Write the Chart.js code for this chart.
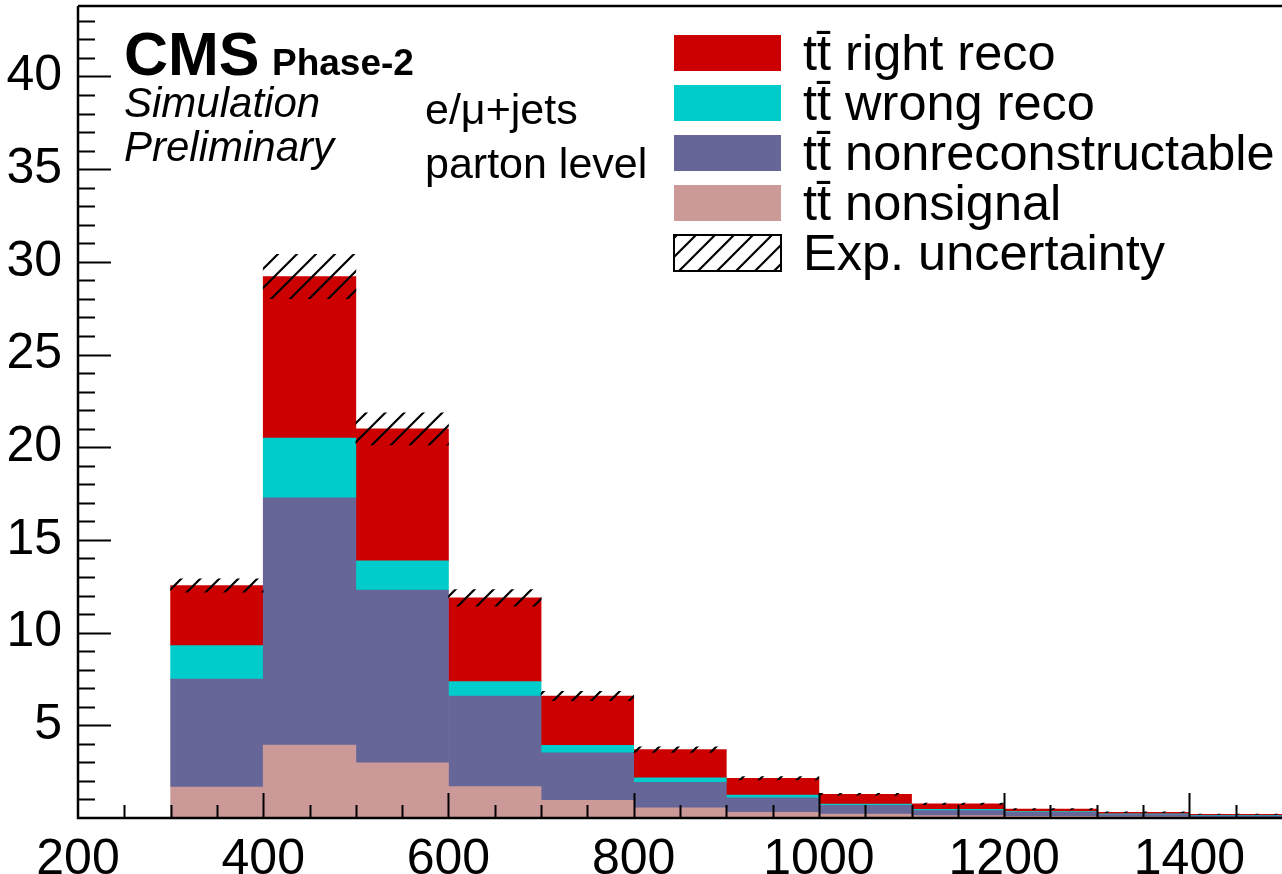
<!DOCTYPE html>
<html>
<head>
<meta charset="utf-8">
<script src="https://cdn.jsdelivr.net/npm/chart.js@4.4.0/dist/chart.umd.min.js"></script>
<style>
  html, body { margin:0; padding:0; background:#fff; }
  #wrap { width:1282px; height:874px; }
</style>
</head>
<body>
<div id="wrap"><canvas id="c" width="1282" height="874"></canvas></div>
<script>
// Histogram bins (lower edges, GeV), width 100
const BIN_LOW   = [300, 400, 500, 600, 700, 800, 900, 1000, 1100, 1200, 1300, 1400];
const BIN_WIDTH = 100;

// Stacked components, bottom to top
const NONSIGNAL = [1.67, 3.94, 2.97, 1.69, 0.95, 0.55, 0.31, 0.21, 0.13, 0.09, 0.06, 0.04];
const NONRECO   = [5.83, 13.33, 9.33, 4.89, 2.56, 1.37, 0.78, 0.47, 0.27, 0.21, 0.13, 0.08];
const WRONG     = [1.80, 3.22, 1.57, 0.78, 0.41, 0.25, 0.15, 0.07, 0.07, 0.05, 0.03, 0.02];
const RIGHT     = [3.24, 8.72, 7.12, 4.51, 2.66, 1.52, 0.90, 0.53, 0.29, 0.13, 0.09, 0.06];
// Exp. uncertainty (half width of the band around the total)
const UNC       = [0.36, 1.20, 0.86, 0.45, 0.25, 0.15, 0.09, 0.05, 0.04, 0.03, 0.02, 0.01];

const X_TICKS = [200, 400, 600, 800, 1000, 1200, 1400];
const Y_TICKS = [5, 10, 15, 20, 25, 30, 35, 40];

const FONT = 'Liberation Sans, Arial, Helvetica, sans-serif';

// helpers
const centers = BIN_LOW.map(l => l + BIN_WIDTH / 2);
const pts = arr => arr.map((v, i) => ({ x: centers[i], y: v }));
const totals = BIN_LOW.map((_, i) => NONSIGNAL[i] + NONRECO[i] + WRONG[i] + RIGHT[i]);

function hatchPattern(){
  const s = 19;
  const c = document.createElement('canvas');
  c.width = c.height = s;
  const g = c.getContext('2d');
  g.strokeStyle = '#000';
  g.lineWidth = 2.2;
  g.beginPath();
  g.moveTo(-3, s + 3); g.lineTo(s + 3, -3);
  g.moveTo(-3, 3); g.lineTo(3, -3);
  g.moveTo(s - 3, s + 3); g.lineTo(s + 3, s - 3);
  g.stroke();
  return g.createPattern(c, 'repeat');
}
const HATCH = hatchPattern();

// ticks, frame and texts drawn on top
const decorations = {
  id: 'decorations',
  afterDraw(chart){
    const { ctx, chartArea: a, scales: { x, y } } = chart;
    ctx.save();
    ctx.strokeStyle = '#000';
    ctx.lineWidth = 2.5;
    ctx.beginPath();
    ctx.moveTo(a.left, a.top); ctx.lineTo(a.left, a.bottom); ctx.lineTo(a.right, a.bottom);
    ctx.moveTo(a.left, a.top); ctx.lineTo(a.right, a.top);
    ctx.stroke();

    ctx.lineWidth = 2;
    ctx.beginPath();
    for (let v = 1; v < y.max; v++){
      const py = Math.round(y.getPixelForValue(v)) + 0.5;
      const len = v % 5 === 0 ? 33 : 17;
      ctx.moveTo(a.left, py); ctx.lineTo(a.left + len, py);
    }
    for (let v = 250; v < x.max; v += 50){
      const px = Math.round(x.getPixelForValue(v)) + 0.5;
      const len = v % 200 === 0 ? 25 : 13;
      ctx.moveTo(px, a.bottom); ctx.lineTo(px, a.bottom - len);
    }
    ctx.stroke();

    // CMS label
    ctx.fillStyle = '#000';
    ctx.textBaseline = 'alphabetic';
    ctx.textAlign = 'left';
    ctx.font = `bold 61px ${FONT}`;
    ctx.fillText('CMS', 124, 75);
    ctx.font = `bold 37px ${FONT}`;
    ctx.fillText('Phase-2', 272, 75);
    ctx.font = `italic 42px ${FONT}`;
    ctx.fillText('Simulation', 124, 117);
    ctx.fillText('Preliminary', 124, 161);
    ctx.font = `43px ${FONT}`;
    ctx.fillText('e/\u03bc+jets', 425, 124);
    ctx.fillText('parton level', 425, 178);

    // legend
    const order = [4, 3, 2, 1, 0];
    order.forEach((di, k) => {
      const ds = chart.data.datasets[di];
      const cy = 53 + k * 50;
      const bx = 674, bw = 107, bh = 36;
      ctx.fillStyle = ds.backgroundColor;
      ctx.fillRect(bx, cy - bh / 2, bw, bh);
      if (di === 0){
        ctx.lineWidth = 2;
        ctx.strokeStyle = '#000';
        ctx.strokeRect(bx, cy - bh / 2, bw, bh);
      }
      ctx.fillStyle = '#000';
      ctx.font = `50.5px ${FONT}`;
      ctx.fillText(ds.label, 803, cy + 17);
    });
    ctx.restore();
  }
};

new Chart(document.getElementById('c'), {
  type: 'bar',
  data: {
    datasets: [
      { label: 'Exp. uncertainty', stack: 'unc', grouped: false,
        data: centers.map((c, i) => ({ x: c, y: [totals[i] - UNC[i], totals[i] + UNC[i]] })),
        backgroundColor: HATCH },
      { label: 't\u0074\u0304 nonsignal', stack: 'mc', data: pts(NONSIGNAL), backgroundColor: '#cc9999' },
      { label: 't\u0074\u0304 nonreconstructable', stack: 'mc', data: pts(NONRECO), backgroundColor: '#666699' },
      { label: 't\u0074\u0304 wrong reco', stack: 'mc', data: pts(WRONG), backgroundColor: '#00cccc' },
      { label: 't\u0074\u0304 right reco', stack: 'mc', data: pts(RIGHT), backgroundColor: '#cc0000' }
    ]
  },
  options: {
    responsive: false,
    animation: false,
    devicePixelRatio: 1,
    layout: { padding: { top: 6, right: 0, left: 0, bottom: 0 }, autoPadding: false },
    datasets: { bar: { barPercentage: 1, categoryPercentage: 1, borderWidth: 0 } },
    plugins: { legend: { display: false }, tooltip: { enabled: false } },
    scales: {
      x: {
        type: 'linear', min: 200, max: 1500, stacked: true, offset: false,
        grid: { display: false, offset: false }, border: { display: false },
        afterBuildTicks: s => { s.ticks = X_TICKS.map(v => ({ value: v })); },
        afterFit: s => { s.height = 56; s.paddingLeft = 0; s.paddingRight = 0; },
        ticks: { color: '#000', font: { family: FONT, size: 50 }, padding: 4, maxRotation: 0, autoSkip: false,
                 callback: v => String(v) }
      },
      y: {
        min: 0, max: 43.8, stacked: true,
        grid: { display: false }, border: { display: false },
        afterBuildTicks: s => { s.ticks = Y_TICKS.map(v => ({ value: v })); },
        afterFit: s => { s.width = 78; s.paddingTop = 0; s.paddingBottom = 0; },
        ticks: { color: '#000', font: { family: FONT, size: 50 }, padding: 8, autoSkip: false,
                 callback: v => String(v) }
      }
    }
  },
  plugins: [decorations]
});
</script>
</body>
</html>
